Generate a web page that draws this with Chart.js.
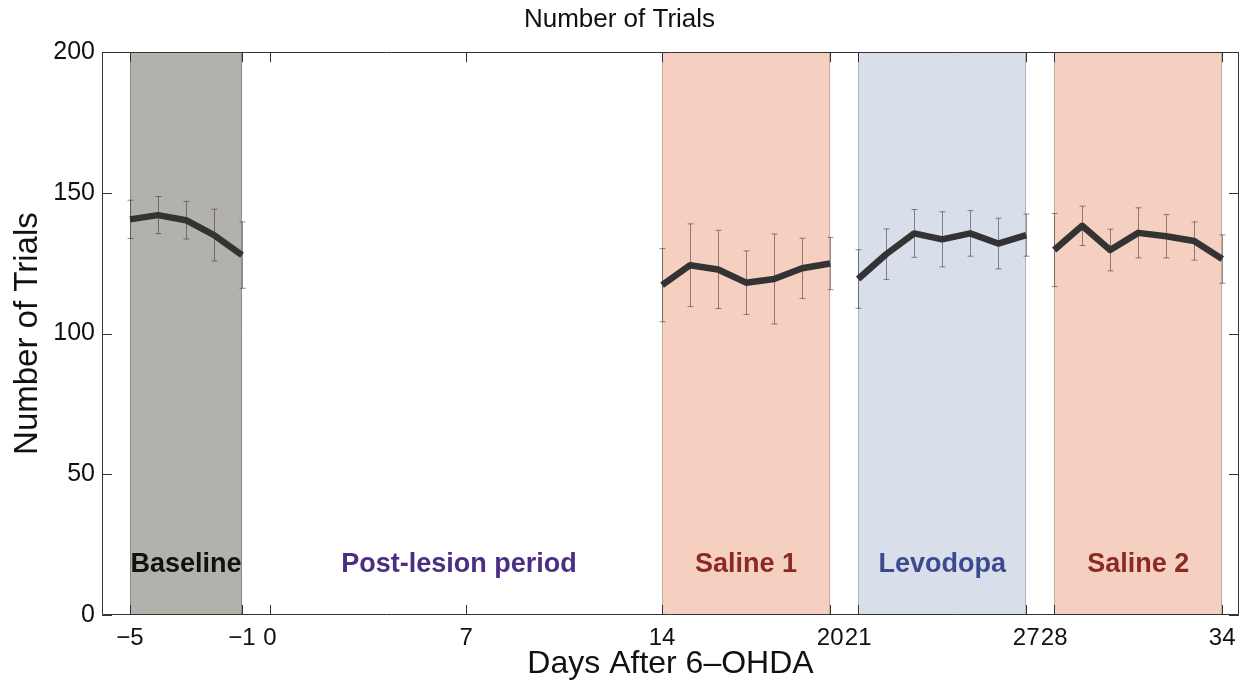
<!DOCTYPE html>
<html><head><meta charset="utf-8">
<script src="https://cdn.jsdelivr.net/npm/chart.js@4/dist/chart.umd.min.js"></script>
<style>html,body{margin:0;padding:0;background:#fff;} canvas{display:block;}</style>
</head><body>
<canvas id="c" width="1249" height="685"></canvas>
<script>
// ---- data ----
const baselineDays = [-5, -4, -3, -2, -1];
const baselineMean = [140.6, 142.1, 140.3, 135.0, 127.9];
const baselineErr  = [6.8, 6.6, 6.7, 9.2, 11.8];

const saline1Days = [14, 15, 16, 17, 18, 19, 20];
const saline1Mean = [117.2, 124.3, 122.8, 118.1, 119.4, 123.2, 124.9];
const saline1Err  = [13.0, 14.7, 13.9, 11.3, 16.0, 10.7, 9.3];

const levodopaDays = [21, 22, 23, 24, 25, 26, 27];
const levodopaMean = [119.4, 128.2, 135.6, 133.5, 135.6, 132.0, 135.0];
const levodopaErr  = [10.4, 9.0, 8.5, 9.8, 8.1, 9.0, 7.5];

const saline2Days = [28, 29, 30, 31, 32, 33, 34];
const saline2Mean = [129.7, 138.3, 129.7, 135.8, 134.6, 132.9, 126.5];
const saline2Err  = [13.0, 7.0, 7.4, 8.9, 7.7, 6.8, 8.6];

const xTickValues = [-5, -1, 0, 7, 14, 20, 21, 27, 28, 34];
const yTickValues = [0, 50, 100, 150, 200];

const periodNames  = ['Baseline', 'Post-lesion period', 'Saline 1', 'Levodopa', 'Saline 2'];
const periodStart  = [-5, null, 14, 21, 28];
const periodEnd    = [-1, null, 20, 27, 34];
const periodLabelX = [-3, 6.75, 17, 24, 31];
const periodLabelY = 17.8;

// ---- styles ----
const periodFill  = ['#b3b1ac', null, '#f5d0c0', '#d8dfea', '#f5d0c0'];
const periodEdge  = ['#8c8a86', null, '#c9aa9d', '#aeb5c0', '#c9aa9d'];
const periodColor = ['#111111', '#4b2e83', '#8b2a22', '#3b4a8e', '#8b2a22'];
const FONT = '"Liberation Sans", Arial, Helvetica, sans-serif';

const groups = [
  {days: baselineDays, mean: baselineMean, err: baselineErr},
  {days: saline1Days, mean: saline1Mean, err: saline1Err},
  {days: levodopaDays, mean: levodopaMean, err: levodopaErr},
  {days: saline2Days, mean: saline2Mean, err: saline2Err}
];

const datasets = groups.map(g => ({
  data: g.days.map((d, i) => ({x: d, y: g.mean[i]})),
  borderColor: '#333333',
  borderWidth: 6.5,
  pointRadius: 0,
  borderJoinStyle: 'round',
  borderCapStyle: 'butt',
  tension: 0,
  fill: false
}));

const regionPlugin = {
  id: 'regions',
  beforeDatasetsDraw(chart) {
    const {ctx, chartArea: a, scales: {x, y}} = chart;
    ctx.save();
    periodStart.forEach((s, i) => {
      if (s === null || !periodFill[i]) return;
      const x0 = x.getPixelForValue(s), x1 = x.getPixelForValue(periodEnd[i]);
      ctx.fillStyle = periodFill[i];
      ctx.fillRect(x0, a.top, x1 - x0, a.bottom - a.top);
      ctx.strokeStyle = periodEdge[i];
      ctx.lineWidth = 1;
      ctx.beginPath();
      ctx.moveTo(Math.round(x0) + 0.5, a.top); ctx.lineTo(Math.round(x0) + 0.5, a.bottom);
      ctx.moveTo(Math.round(x1) - 0.5, a.top); ctx.lineTo(Math.round(x1) - 0.5, a.bottom);
      ctx.stroke();
    });
    // error bars
    ctx.strokeStyle = 'rgba(55,50,50,0.55)';
    ctx.lineWidth = 1;
    groups.forEach(g => {
      g.days.forEach((d, i) => {
        const px = Math.round(x.getPixelForValue(d)) + 0.5;
        const top = y.getPixelForValue(g.mean[i] + g.err[i]);
        const bot = y.getPixelForValue(g.mean[i] - g.err[i]);
        ctx.beginPath();
        ctx.moveTo(px, top); ctx.lineTo(px, bot);
        ctx.moveTo(px - 3, top); ctx.lineTo(px + 3, top);
        ctx.moveTo(px - 3, bot); ctx.lineTo(px + 3, bot);
        ctx.stroke();
      });
    });
    ctx.restore();
  },
  afterDatasetsDraw(chart) {
    const {ctx, chartArea: a, scales: {x, y}} = chart;
    ctx.save();
    // labels
    ctx.font = 'bold 27px ' + FONT;
    ctx.textAlign = 'center';
    ctx.textBaseline = 'middle';
    periodNames.forEach((n, i) => {
      ctx.fillStyle = periodColor[i];
      ctx.fillText(n, x.getPixelForValue(periodLabelX[i]), y.getPixelForValue(periodLabelY));
    });
    // box + inner ticks
    ctx.strokeStyle = '#333';
    ctx.lineWidth = 1;
    ctx.beginPath();
    ctx.rect(Math.round(a.left) + 0.5, Math.round(a.top) + 0.5, Math.round(a.right - a.left) - 1, Math.round(a.bottom - a.top) - 1);
    const tl = 10;
    xTickValues.forEach(v => {
      const px = Math.round(x.getPixelForValue(v)) + 0.5;
      ctx.moveTo(px, a.bottom); ctx.lineTo(px, a.bottom - tl);
      ctx.moveTo(px, a.top); ctx.lineTo(px, a.top + tl);
    });
    yTickValues.forEach(v => {
      const py = Math.round(y.getPixelForValue(v)) + 0.5;
      ctx.moveTo(a.left, py); ctx.lineTo(a.left + tl, py);
      ctx.moveTo(a.right, py); ctx.lineTo(a.right - tl, py);
    });
    ctx.stroke();
    ctx.restore();
  }
};

new Chart(document.getElementById('c'), {
  type: 'line',
  data: {datasets},
  options: {
    responsive: false,
    animation: false,
    layout: {padding: {left: 0, right: 10, top: 0, bottom: 0}},
    plugins: {
      legend: {display: false},
      tooltip: {enabled: false},
      title: {
        display: true,
        text: 'Number of Trials',
        color: '#111',
        font: {family: FONT, size: 26, weight: 'normal'},
        padding: {top: 4, bottom: 17}
      }
    },
    scales: {
      x: {
        type: 'linear',
        min: -6,
        max: 34.6,
        afterBuildTicks(scale) { scale.ticks = xTickValues.map(v => ({value: v})); },
        afterFit(scale) { scale.height = 70; },
        grid: {display: false, drawTicks: false},
        border: {display: false},
        ticks: {
          autoSkip: false, maxRotation: 0, minRotation: 0, padding: 9,
          color: '#111',
          font: {family: FONT, size: 24},
          callback: v => (v < 0 ? '\u2212' + Math.abs(v) : String(v))
        },
        title: {
          display: true,
          text: 'Days After 6\u2013OHDA',
          color: '#111',
          font: {family: FONT, size: 32},
          padding: {top: 0, bottom: 2}
        }
      },
      y: {
        min: 0,
        max: 200,
        afterBuildTicks(scale) { scale.ticks = yTickValues.map(v => ({value: v})); },
        afterFit(scale) { scale.width = 102; },
        grid: {display: false, drawTicks: false},
        border: {display: false},
        ticks: {
          padding: 7,
          color: '#111',
          font: {family: FONT, size: 25}
        },
        title: {
          display: true,
          text: 'Number of Trials',
          color: '#111',
          font: {family: FONT, size: 33},
          padding: {top: 8, bottom: 0}
        }
      }
    }
  },
  plugins: [regionPlugin]
});
</script>
</body></html>
